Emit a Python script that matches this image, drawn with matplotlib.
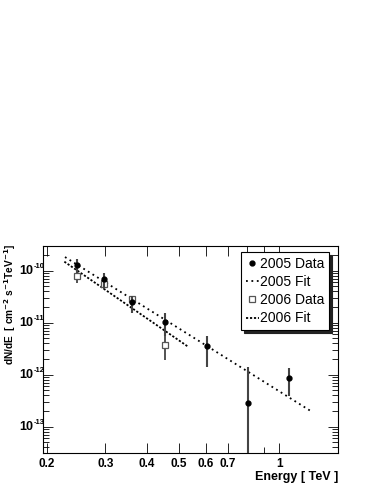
import numpy as np
import matplotlib
matplotlib.use("Agg")
import matplotlib.pyplot as plt
from matplotlib.lines import Line2D
from matplotlib.transforms import offset_copy
from matplotlib.ticker import FixedLocator, NullFormatter, LogLocator

plt.rcParams['font.family'] = ['Liberation Sans', 'DejaVu Sans']

# 2005 data
e05 = [0.246, 0.298, 0.361, 0.454, 0.604, 0.802, 1.069]
f05 = [1.26e-10, 6.9e-11, 2.46e-11, 1.01e-11, 3.5e-12, 2.86e-13, 8.6e-13]
f05_hi = [1.7e-10, 9.0e-11, 3.2e-11, 1.5e-11, 5.6e-12, 1.4e-12, 1.35e-12]
f05_lo = [0.9e-10, 4.4e-11, 1.5e-11, 5.5e-12, 1.4e-12, 1e-15, 3.8e-13]

# 2006 data
e06 = [0.246, 0.298, 0.361, 0.454]
f06 = [7.8e-11, 5.5e-11, 2.85e-11, 3.7e-12]
f06_hi = [1.0e-10, 7.0e-11, 3.3e-11, 6.0e-12]
f06_lo = [5.8e-11, 4.4e-11, 2.4e-11, 1.9e-12]

# fit lines (end points)
fit05_e = [0.227, 1.245]
fit05_f = [1.83e-10, 1.97e-13]
fit06_e = [0.226, 0.533]
fit06_f = [1.49e-10, 3.41e-12]

xticks = [0.2, 0.3, 0.4, 0.5, 0.6, 0.7, 1]
xtick_labels = ['0.2', '0.3', '0.4', '0.5', '0.6', '0.7', '1']
ydecades = [-10, -11, -12, -13]

fig = plt.figure(figsize=(3.74, 4.84), dpi=100)
ax = fig.add_axes([0.115, 0.064, 0.789, 0.428])

def errs(f, hi, lo):
    f = np.array(f)
    return [f - np.array(lo), np.array(hi) - f]

ls05 = (0, (1, 2))
ls06 = (0, (1.2, 1.0))
ax.plot(fit05_e, fit05_f, color='k', lw=1.3, ls=ls05)
ax.plot(fit06_e, fit06_f, color='k', lw=1.3, ls=ls06)

ax.errorbar(e06, f06, yerr=errs(f06, f06_hi, f06_lo), fmt='s', ms=4,
            mfc='white', mec='#555555', mew=0.9, ecolor='#444444', elinewidth=1.3,
            capsize=0, zorder=3)
ax.errorbar(e05, f05, yerr=errs(f05, f05_hi, f05_lo), fmt='o', ms=3.5,
            color='k', ecolor='#444444', elinewidth=1.5, capsize=0, zorder=4)

ax.set_xscale('log')
ax.set_yscale('log')
ax.set_xlim(0.195, 1.5)
ax.set_ylim(3.1e-14, 3e-10)

ax.xaxis.set_major_locator(FixedLocator(xticks))
ax.set_xticklabels(xtick_labels, fontweight='bold', fontsize=8.5)
ax.xaxis.set_minor_locator(FixedLocator([0.8, 0.9]))
ax.xaxis.set_minor_formatter(NullFormatter())
ax.yaxis.set_major_locator(FixedLocator([10.0 ** d for d in ydecades]))
ax.yaxis.set_minor_locator(LogLocator(base=10, subs=np.arange(2, 10), numticks=20))
ax.yaxis.set_major_formatter(NullFormatter())
ax.yaxis.set_minor_formatter(NullFormatter())

# ROOT-style y tick labels: "10" with a small raised exponent
ytr = ax.get_yaxis_transform()
base_tr = offset_copy(ytr, fig=fig, x=-9.5, y=0, units='dots')
exp_tr = offset_copy(ytr, fig=fig, x=-9.5, y=4.5, units='dots')
for d in ydecades:
    ax.text(0, 10.0 ** d, '10', transform=base_tr, ha='right', va='center',
            fontweight='bold', fontsize=9)
    ax.text(0, 10.0 ** d, str(d), transform=exp_tr, ha='left', va='center',
            fontweight='bold', fontsize=5.5)

ax.tick_params(which='both', direction='in', top=True, right=True, width=0.6)
ax.tick_params(which='major', length=7)
ax.tick_params(which='minor', length=4)
for s in ax.spines.values():
    s.set_linewidth(0.8)

fig.text(338 / 374, 1 - 477 / 484, 'Energy [ TeV ]', ha='right', va='center',
         fontweight='bold', fontsize=9)
fig.text(10 / 374, 1 - 244 / 484,
         r'dN/dE  [ cm$^{\mathbf{-2}}$ s$^{\mathbf{-1}}$TeV$^{\mathbf{-1}}$]',
         rotation=90, ha='center', va='top', fontweight='bold', fontsize=7.3)

handles = [
    Line2D([], [], ls='none', marker='o', ms=3.5, color='k'),
    Line2D([], [], color='k', lw=1.3, ls=ls05),
    Line2D([], [], ls='none', marker='s', ms=4, mfc='white', mec='#555555', mew=0.9),
    Line2D([], [], color='k', lw=1.3, ls=ls06),
]
labels = ['2005 Data', '2005 Fit', '2006 Data', '2006 Fit']
leg = ax.legend(handles, labels, loc='upper right',
                bbox_to_anchor=(0.97, 0.97), fontsize=10, frameon=True,
                fancybox=False, shadow={'color': '#222222', 'alpha': 1},
                handlelength=0.9, labelspacing=0.3, borderpad=0.35,
                handletextpad=0.1, borderaxespad=0)
leg.get_frame().set_edgecolor('black')
leg.get_frame().set_linewidth(0.8)

fig.savefig('out.png', dpi=100)
